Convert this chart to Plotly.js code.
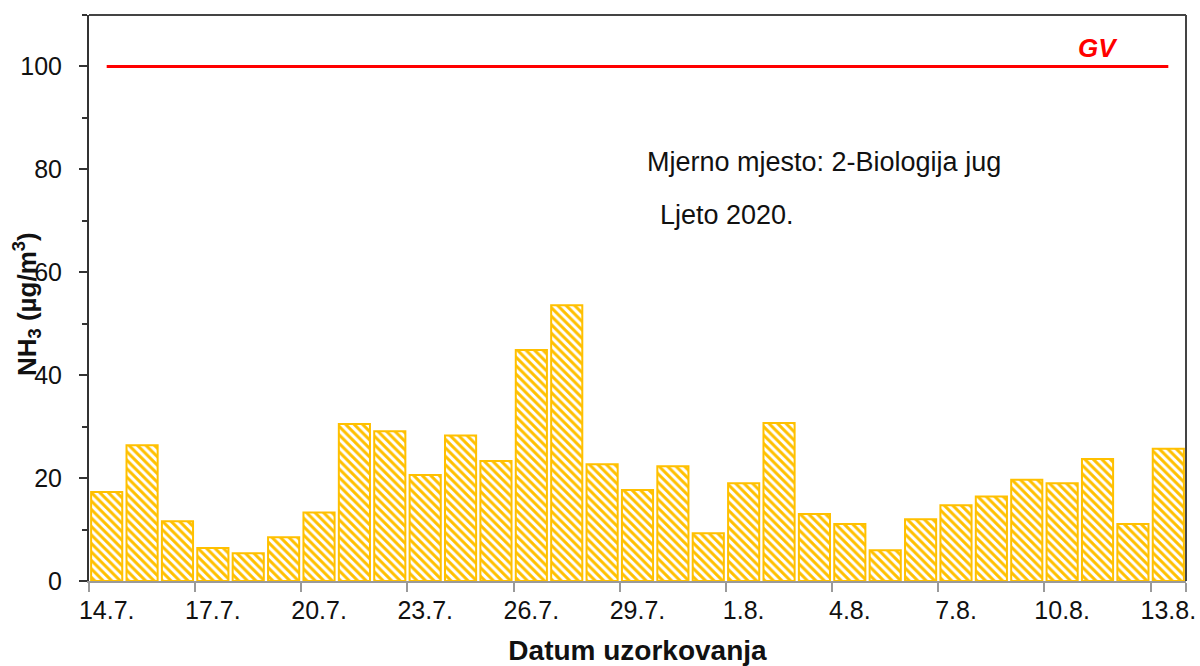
<!DOCTYPE html>
<html>
<head>
<meta charset="utf-8">
<script src="https://cdn.plot.ly/plotly-3.0.1.min.js"></script>
<style>html,body{margin:0;padding:0;background:#fff;}#chart{width:1200px;height:666px;}</style>
</head>
<body>
<div id="chart"></div>
<script>
// Sampling dates (Summer 2020)
const dates = ["14.7.","15.7.","16.7.","17.7.","18.7.","19.7.","20.7.","21.7.","22.7.","23.7.",
  "24.7.","25.7.","26.7.","27.7.","28.7.","29.7.","30.7.","31.7.","1.8.","2.8.",
  "3.8.","4.8.","5.8.","6.8.","7.8.","8.8.","9.8.","10.8.","11.8.","12.8.","13.8."];
// NH3 concentrations (µg/m3)
const nh3 = [17.3,26.4,11.6,6.4,5.4,8.5,13.3,30.5,29.1,20.6,
  28.3,23.3,44.9,53.6,22.7,17.7,22.3,9.3,19.0,30.7,
  13.0,11.1,6.0,12.0,14.7,16.4,19.7,19.0,23.7,11.1,25.7];
// Shown x tick labels (every third date)
const tickLabels = ["14.7.","17.7.","20.7.","23.7.","26.7.","29.7.","1.8.","4.8.","7.8.","10.8.","13.8."];
// Guide value (granična vrijednost)
const gvValue = 100;
const gvLabel = "GV";
const yTicks = [0,20,40,60,80,100];

const font = "'Liberation Sans', Arial, sans-serif";
const txt = "#111111";

const barTrace = {
  type: "bar",
  x: dates,
  y: nh3,
  marker: {
    color: "#ffffff",
    pattern: {shape: "\\", fgcolor: "#FFC000", bgcolor: "#ffffff", size: 6, solidity: 0.5},
    line: {color: "#FFC000", width: 2}
  },
  hoverinfo: "x+y",
  showlegend: false
};

const gvTrace = {
  type: "scatter",
  mode: "lines",
  x: [dates[0], dates[dates.length - 1]],
  y: [gvValue, gvValue],
  line: {color: "#ff0000", width: 3},
  hoverinfo: "skip",
  showlegend: false
};

const layout = {
  width: 1200,
  height: 666,
  margin: {l: 89, r: 14, t: 15, b: 85},
  paper_bgcolor: "#ffffff",
  plot_bgcolor: "#ffffff",
  bargap: 0.12,
  font: {family: font, color: txt},
  xaxis: {
    type: "category",
    range: [-0.5, dates.length - 0.5],
    tickmode: "array",
    tickvals: tickLabels,
    ticktext: tickLabels,
    tickson: "boundaries",
    tickangle: 0,
    ticks: "outside",
    ticklen: 9,
    tickwidth: 2,
    tickcolor: "#9a9a9a",
    showline: true,
    linecolor: "#9a9a9a",
    linewidth: 2,
    showgrid: false,
    zeroline: false,
    tickfont: {family: font, size: 25, color: txt},
    ticklabelstandoff: 6,
    title: {text: "Datum uzorkovanja", font: {family: font, size: 28, color: txt, weight: "bold"}, standoff: 20}
  },
  xaxis2: {
    type: "linear",
    overlaying: "x",
    anchor: "y",
    side: "bottom",
    range: [-0.5, dates.length - 0.5],
    tickmode: "linear",
    tick0: -0.5,
    dtick: 1,
    ticks: "outside",
    ticklen: 6,
    tickwidth: 2,
    tickcolor: "#9a9a9a",
    showticklabels: false,
    showline: false,
    showgrid: false,
    zeroline: false
  },
  yaxis: {
    range: [0, 110],
    tickmode: "array",
    tickvals: yTicks,
    ticks: "outside",
    ticklen: 8,
    tickwidth: 2,
    tickcolor: "#333333",
    showline: true,
    linecolor: "#333333",
    linewidth: 2,
    showgrid: false,
    zeroline: false,
    minor: {tickmode: "linear", tick0: 0, dtick: 10, ticks: "outside", ticklen: 5, tickwidth: 2, tickcolor: "#333333", showgrid: false},
    tickfont: {family: font, size: 25, color: txt},
    ticklabelstandoff: 12
  },
  shapes: [
    {type: "line", xref: "paper", yref: "paper", x0: 0, x1: 1, y0: 1, y1: 1, line: {color: "#444444", width: 2}},
    {type: "line", xref: "paper", yref: "paper", x0: 1, x1: 1, y0: 0, y1: 1, line: {color: "#444444", width: 2}}
  ],
  annotations: [
    {text: "NH<sub>3</sub> (µg/m<sup>3</sup>)", xref: "paper", yref: "paper", x: 0, y: 0.5, xanchor: "center", yanchor: "middle",
     xshift: -62, yshift: -6, textangle: -90, showarrow: false, font: {family: font, size: 26, color: txt, weight: "bold"}},
    {text: "<b><i>" + gvLabel + "</i></b>", x: "11.8.", y: gvValue, xref: "x", yref: "y", xanchor: "center", yanchor: "bottom",
     yshift: 1, showarrow: false, font: {family: font, size: 26, color: "#ff0000"}},
    {text: "Mjerno mjesto: 2-Biologija jug", xref: "paper", yref: "paper", x: 0.670, y: 0.740, xanchor: "center", yanchor: "middle",
     showarrow: false, font: {family: font, size: 27, color: txt}},
    {text: "Ljeto 2020.", xref: "paper", yref: "paper", x: 0.519, y: 0.647, xanchor: "left", yanchor: "middle",
     showarrow: false, font: {family: font, size: 27, color: txt}}
  ]
};

Plotly.newPlot("chart", [barTrace, gvTrace], layout, {displayModeBar: false, staticPlot: true});
</script>
</body>
</html>
